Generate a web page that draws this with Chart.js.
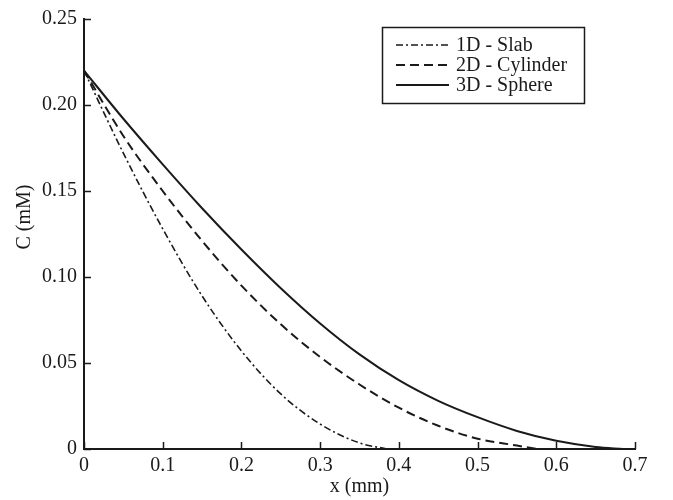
<!DOCTYPE html>
<html>
<head>
    <title>C vs x</title>
    <script src="https://cdn.jsdelivr.net/npm/chart.js"></script>
    <style>
        body { margin: 0; background: #fff; }
        canvas { display: block; }
    </style>
</head>
<body>
    <canvas id="chart" width="673" height="500"></canvas>
    <script>
        // values
        var labels = ['1D - Slab', '2D - Cylinder', '3D - Sphere'];
        var xSlab = [0, 0.05, 0.1, 0.15, 0.2, 0.25, 0.3, 0.35, 0.385];
        var cSlab = [0.22, 0.172, 0.128, 0.089, 0.057, 0.032, 0.0145, 0.0035, 0];
        var xCyl = [0, 0.05, 0.1, 0.15, 0.2, 0.25, 0.3, 0.35, 0.4, 0.45, 0.5, 0.55, 0.575];
        var cCyl = [0.22, 0.182, 0.150, 0.121, 0.095, 0.0725, 0.0535, 0.0375, 0.024, 0.0135, 0.006, 0.002, 0];
        var xSph = [0, 0.05, 0.1, 0.15, 0.2, 0.25, 0.3, 0.35, 0.4, 0.45, 0.5, 0.55, 0.6, 0.65, 0.685];
        var cSph = [0.22, 0.192, 0.1655, 0.140, 0.116, 0.0935, 0.073, 0.055, 0.040, 0.028, 0.0185, 0.0105, 0.0048, 0.0012, 0];
        var xTicks = [0, 0.1, 0.2, 0.3, 0.4, 0.5, 0.6, 0.7];
        var yTicks = [0, 0.05, 0.10, 0.15, 0.20, 0.25];

        var ink = '#1a1a1a';
        var serif = "'Liberation Serif', 'DejaVu Serif', serif";

        function pts(xs, ys) {
            return xs.map(function (x, i) { return { x: x, y: ys[i] }; });
        }

        // inward ticks, axis titles and the boxed legend
        var extras = {
            id: 'extras',
            afterDraw: function (chart) {
                var ctx = chart.ctx;
                var xs = chart.scales.x, ys = chart.scales.y;
                var a = chart.chartArea;
                ctx.save();
                ctx.strokeStyle = ink;
                ctx.lineWidth = 1.5;
                xTicks.forEach(function (v) {
                    var px = Math.round(xs.getPixelForValue(v)) + 0.5;
                    ctx.beginPath();
                    ctx.moveTo(px, a.bottom);
                    ctx.lineTo(px, a.bottom - 7);
                    ctx.stroke();
                });
                yTicks.forEach(function (v) {
                    var py = Math.round(ys.getPixelForValue(v)) + 0.5;
                    ctx.beginPath();
                    ctx.moveTo(a.left, py);
                    ctx.lineTo(a.left + 7, py);
                    ctx.stroke();
                });

                ctx.fillStyle = ink;
                ctx.font = '20px ' + serif;
                ctx.textAlign = 'center';
                ctx.textBaseline = 'middle';
                ctx.fillText('x (mm)', (a.left + a.right) / 2, 487);
                ctx.save();
                ctx.translate(25, 217);
                ctx.rotate(-Math.PI / 2);
                ctx.fillText('C (mM)', 0, 0);
                ctx.restore();

                // legend box
                ctx.lineWidth = 1.5;
                ctx.strokeRect(382.5, 27.5, 202, 76);
                ctx.textAlign = 'left';
                ctx.font = '20px ' + serif;
                chart.data.datasets.forEach(function (ds, i) {
                    var y = 45 + i * 20;
                    ctx.save();
                    ctx.lineWidth = ds.borderWidth;
                    ctx.setLineDash(ds.borderDash || []);
                    ctx.beginPath();
                    ctx.moveTo(396, y);
                    ctx.lineTo(449, y);
                    ctx.stroke();
                    ctx.restore();
                    ctx.fillText(ds.label, 456, y + 1);
                });
                ctx.restore();
            }
        };

        var tickFont = { family: serif, size: 20 };

        new Chart(document.getElementById('chart'), {
            type: 'line',
            data: {
                datasets: [{
                    label: labels[0],
                    data: pts(xSlab, cSlab),
                    borderColor: ink,
                    borderWidth: 1.6,
                    borderDash: [7, 3, 2, 3]
                }, {
                    label: labels[1],
                    data: pts(xCyl, cCyl),
                    borderColor: ink,
                    borderWidth: 2,
                    borderDash: [9, 5]
                }, {
                    label: labels[2],
                    data: pts(xSph, cSph),
                    borderColor: ink,
                    borderWidth: 2,
                    borderDash: []
                }]
            },
            options: {
                responsive: false,
                animation: false,
                elements: {
                    point: { radius: 0 },
                    line: { tension: 0.4, cubicInterpolationMode: 'monotone', fill: false }
                },
                layout: { padding: { top: 14, right: 38, left: 0, bottom: 0 } },
                plugins: {
                    legend: { display: false },
                    tooltip: { enabled: false }
                },
                scales: {
                    x: {
                        type: 'linear',
                        min: 0,
                        max: 0.7,
                        afterFit: function (s) { s.height = 51; },
                        afterBuildTicks: function (s) { s.ticks = xTicks.map(function (v) { return { value: v }; }); },
                        grid: { display: false, drawTicks: false },
                        border: { color: ink, width: 2 },
                        ticks: {
                            padding: 5,
                            color: ink,
                            font: tickFont,
                            maxRotation: 0,
                            callback: function (v) { return v === 0 ? '0' : v.toFixed(1); }
                        }
                    },
                    y: {
                        min: 0,
                        max: 0.25,
                        afterFit: function (s) { s.width = 84; },
                        afterBuildTicks: function (s) { s.ticks = yTicks.map(function (v) { return { value: v }; }); },
                        grid: { display: false, drawTicks: false },
                        border: { color: ink, width: 2 },
                        ticks: {
                            padding: 7,
                            color: ink,
                            font: tickFont,
                            callback: function (v) { return v === 0 ? '0' : v.toFixed(2); }
                        }
                    }
                }
            },
            plugins: [extras]
        });
    </script>
</body>
</html>
